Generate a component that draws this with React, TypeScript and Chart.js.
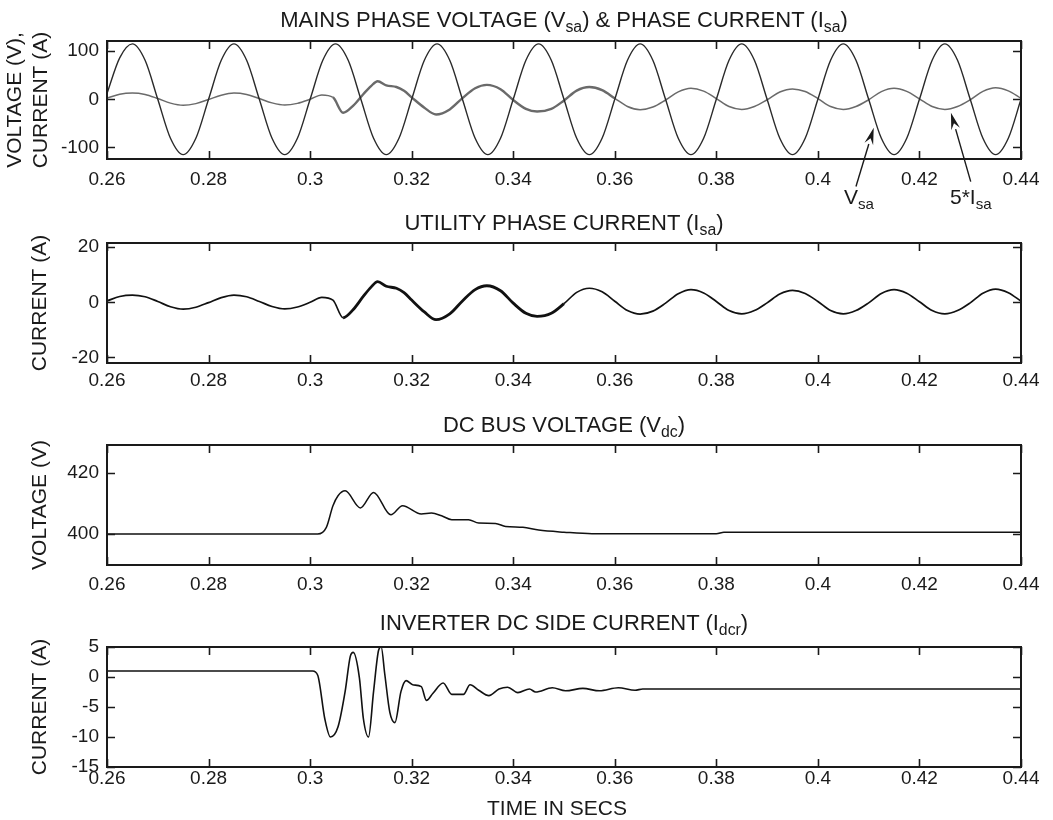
import React, { useEffect, useRef } from "react";
import { Chart, registerables } from "chart.js";

Chart.register(...registerables);

// ---------------- data ----------------
const X_TICKS = [0.26, 0.28, 0.3, 0.32, 0.34, 0.36, 0.38, 0.4, 0.42, 0.44];

const Y_TICKS_1 = [-100, 0, 100];
const Y_TICKS_2 = [-20, 0, 20];
const Y_TICKS_3 = [400, 420];
const Y_TICKS_4 = [-15, -10, -5, 0, 5];

// mains phase voltage Vsa (V)
const VSA_T = [
  0.26, 0.2625, 0.265, 0.2675, 0.27, 0.2725, 0.275, 0.2775,
  0.28, 0.2825, 0.285, 0.2875, 0.29, 0.2925, 0.295, 0.2975,
  0.3, 0.3025, 0.305, 0.3075, 0.31, 0.3125, 0.315, 0.3175,
  0.32, 0.3225, 0.325, 0.3275, 0.33, 0.3325, 0.335, 0.3375,
  0.34, 0.3425, 0.345, 0.3475, 0.35, 0.3525, 0.355, 0.3575,
  0.36, 0.3625, 0.365, 0.3675, 0.37, 0.3725, 0.375, 0.3775,
  0.38, 0.3825, 0.385, 0.3875, 0.39, 0.3925, 0.395, 0.3975,
  0.4, 0.4025, 0.405, 0.4075, 0.41, 0.4125, 0.415, 0.4175,
  0.42, 0.4225, 0.425, 0.4275, 0.43, 0.4325, 0.435, 0.4375,
  0.44,
];
const VSA_V = [
  12, 86, 115, 81, 0, -81, -115, -81,
  0, 81, 115, 81, 0, -81, -115, -81,
  0, 81, 115, 81, 0, -81, -115, -81,
  0, 81, 115, 81, 0, -81, -115, -81,
  0, 81, 115, 81, 0, -81, -115, -81,
  0, 81, 115, 81, 0, -81, -115, -81,
  0, 81, 115, 81, 0, -81, -115, -81,
  0, 81, 115, 81, 0, -81, -115, -81,
  0, 81, 115, 81, 0, -81, -115, -81,
  0,
];

// utility phase current Isa (A)
const ISA_T = [
  0.26, 0.2625, 0.265, 0.2675, 0.27, 0.2725, 0.275, 0.2775,
  0.28, 0.2825, 0.285, 0.2875, 0.29, 0.2925, 0.295, 0.2975, 0.3,
  0.3023, 0.3045, 0.3065, 0.3085, 0.3105, 0.312, 0.3133, 0.315, 0.317, 0.3185, 0.32,
  0.3225, 0.3248, 0.3275, 0.33, 0.3325, 0.3348, 0.3375, 0.34,
  0.3425, 0.3447, 0.3475, 0.35, 0.3525, 0.355, 0.3575, 0.36,
  0.3625, 0.365, 0.3675, 0.37, 0.3725, 0.375, 0.3775, 0.38,
  0.3825, 0.385, 0.3875, 0.39, 0.3925, 0.395, 0.3975, 0.4,
  0.4025, 0.405, 0.4075, 0.41, 0.4125, 0.415, 0.4175, 0.42,
  0.4225, 0.425, 0.4275, 0.43, 0.4325, 0.435, 0.4375, 0.44,
];
const ISA_V = [
  0.5, 2.1, 2.6, 2.0, 0.3, -1.6, -2.5, -1.8,
  -0.1, 1.7, 2.6, 2.0, 0.3, -1.5, -2.4, -1.7, 0.0,
  1.8, 0.8, -5.6, -2.6, 2.2, 5.5, 7.5, 5.8, 5.1, 3.5, 0.8,
  -3.5, -6.3, -4.2, 0.5, 4.6, 6.0, 4.2, -0.3,
  -4.0, -5.1, -4.0, -0.5, 3.6, 5.1, 3.8, 0.4,
  -3.0, -4.3, -3.2, -0.3, 3.1, 4.6, 3.4, 0.3,
  -3.0, -4.2, -3.0, -0.2, 3.0, 4.3, 3.2, 0.3,
  -3.0, -4.2, -3.0, -0.2, 3.2, 4.6, 3.3, 0.2,
  -3.0, -4.2, -3.0, -0.2, 3.3, 4.8, 3.5, 0.4,
];
const ISA_SCALE = 5; // plotted as 5*Isa in the top panel

// DC bus voltage Vdc (V)
const VDC_T = [
  0.26, 0.3015, 0.3032, 0.3045, 0.3055, 0.3069, 0.3099, 0.3125, 0.3159, 0.3182,
  0.3219, 0.3239, 0.3259, 0.3279, 0.3312, 0.3332, 0.3365, 0.3385, 0.3419, 0.345,
  0.35, 0.3555, 0.38, 0.3815, 0.44,
];
const VDC_V = [
  400, 400, 402.2, 409.3, 412.6, 414.2, 408.6, 413.7, 406.3, 409.3,
  406.6, 406.9, 406.0, 404.7, 404.7, 403.6, 403.5, 402.5, 402.2, 401.3,
  400.6, 400.1, 400.1, 400.6, 400.6,
];

// inverter DC side current Idcr (A)
const IDC_T = [
  0.26, 0.3005, 0.3015, 0.3029, 0.304, 0.3055, 0.3069, 0.3079, 0.3085, 0.3097,
  0.3105, 0.3115, 0.3125, 0.3135, 0.314, 0.3147, 0.3157, 0.3167, 0.3179, 0.3189,
  0.3202, 0.3219, 0.3229, 0.3242, 0.3262, 0.3279, 0.3302, 0.3315, 0.3332, 0.3352,
  0.3372, 0.3389, 0.3409, 0.3432, 0.3444, 0.3477, 0.3503, 0.3537, 0.357, 0.3607,
  0.364, 0.3655, 0.44,
];
const IDC_V = [
  1.0, 1.0, 0.3, -7.0, -10.0, -8.3, -2.4, 3.4, 4.1, -0.1,
  -7.0, -10.0, -2.4, 4.5, 5.0, 0.5, -5.9, -7.6, -2.4, -0.6,
  -1.3, -1.6, -3.9, -2.7, -1.0, -2.9, -2.9, -1.3, -2.2, -3.1,
  -2.0, -1.7, -2.6, -2.0, -2.5, -1.8, -2.3, -1.9, -2.3, -1.8,
  -2.2, -2.0, -2.0,
];

// annotation arrows (data coordinates of top panel): tail -> tip
const ARROWS = [
  { from: [0.4075, -181], to: [0.411, -59] },
  { from: [0.4301, -171], to: [0.4262, -28] },
];

// ---------------- helpers ----------------
const FONT = '"Liberation Sans", Arial, Helvetica, sans-serif';
const INK = "#1a1a1a";

const pts = (t: number[], v: number[]) => t.map((x, i) => ({ x, y: v[i] }));

const framePlugin = {
  id: "frame",
  afterDraw(chart: any) {
    const { ctx, chartArea } = chart;
    const { left, right, top, bottom } = chartArea;
    const x = chart.scales.x;
    const y = chart.scales.y;
    const L = 8;
    ctx.save();
    ctx.strokeStyle = INK;
    ctx.lineWidth = 1.6;
    ctx.beginPath();
    x.ticks.forEach((t: any) => {
      const px = Math.round(x.getPixelForValue(t.value)) + 0.5;
      ctx.moveTo(px, bottom);
      ctx.lineTo(px, bottom - L);
      ctx.moveTo(px, top);
      ctx.lineTo(px, top + L);
    });
    y.ticks.forEach((t: any) => {
      const py = Math.round(y.getPixelForValue(t.value)) + 0.5;
      ctx.moveTo(left, py);
      ctx.lineTo(left + L, py);
      ctx.moveTo(right, py);
      ctx.lineTo(right - L, py);
    });
    ctx.stroke();
    ctx.lineWidth = 2;
    ctx.strokeRect(left, top, right - left, bottom - top);
    ctx.restore();
  },
};

const arrowPlugin = {
  id: "arrows",
  afterDraw(chart: any, _args: any, opts: any) {
    const items = (opts && opts.items) || [];
    if (!items.length) return;
    const { ctx } = chart;
    const x = chart.scales.x;
    const y = chart.scales.y;
    ctx.save();
    ctx.strokeStyle = INK;
    ctx.fillStyle = INK;
    ctx.lineWidth = 1.4;
    items.forEach((a: any) => {
      const x0 = x.getPixelForValue(a.from[0]);
      const y0 = y.getPixelForValue(a.from[1]);
      const x1 = x.getPixelForValue(a.to[0]);
      const y1 = y.getPixelForValue(a.to[1]);
      const ang = Math.atan2(y1 - y0, x1 - x0);
      const len = 17;
      const hw = 4.5;
      const bx = x1 - len * Math.cos(ang);
      const by = y1 - len * Math.sin(ang);
      ctx.beginPath();
      ctx.moveTo(x0, y0);
      ctx.lineTo(bx, by);
      ctx.stroke();
      ctx.beginPath();
      ctx.moveTo(x1, y1);
      ctx.lineTo(bx + hw * Math.sin(ang), by - hw * Math.cos(ang));
      ctx.lineTo(x1 - (len - 6) * Math.cos(ang), y1 - (len - 6) * Math.sin(ang));
      ctx.lineTo(bx - hw * Math.sin(ang), by + hw * Math.cos(ang));
      ctx.closePath();
      ctx.fill();
    });
    ctx.restore();
  },
};

type PanelProps = {
  top: number;
  height: number;
  padTop: number;
  axisHeight: number;
  tickPad: number;
  yMin: number;
  yMax: number;
  yTicks: number[];
  yTitle: string | string[];
  yTitlePad: number;
  datasets: any[];
  arrows?: any[];
};

function Panel(p: PanelProps) {
  const ref = useRef<HTMLCanvasElement | null>(null);
  useEffect(() => {
    if (!ref.current) return;
    const chart = new Chart(ref.current, {
      type: "line",
      data: { datasets: p.datasets },
      plugins: [framePlugin, arrowPlugin],
      options: {
        animation: false,
        responsive: false,
        devicePixelRatio: 1,
        parsing: false as any,
        normalized: true,
        layout: { padding: { top: p.padTop, right: 32, left: 0, bottom: 0 } },
        elements: { point: { radius: 0 }, line: { cubicInterpolationMode: "monotone" } },
        plugins: {
          legend: { display: false },
          tooltip: { enabled: false },
          title: { display: false },
          arrows: { items: p.arrows || [] },
        } as any,
        scales: {
          x: {
            type: "linear",
            min: X_TICKS[0],
            max: X_TICKS[X_TICKS.length - 1],
            grid: { display: false, drawTicks: false },
            border: { display: false },
            afterBuildTicks: (s: any) => {
              s.ticks = X_TICKS.map((v) => ({ value: v }));
            },
            afterFit: (s: any) => {
              s.height = p.axisHeight;
            },
            ticks: {
              autoSkip: false,
              maxRotation: 0,
              padding: p.tickPad,
              color: INK,
              font: { family: FONT, size: 19 },
              callback: (v: any) => String(Number(Number(v).toFixed(2))),
            },
          },
          y: {
            type: "linear",
            min: p.yMin,
            max: p.yMax,
            grid: { display: false, drawTicks: false },
            border: { display: false },
            afterBuildTicks: (s: any) => {
              s.ticks = p.yTicks.map((v) => ({ value: v }));
            },
            afterFit: (s: any) => {
              s.width = 107;
            },
            ticks: {
              autoSkip: false,
              padding: 8,
              color: INK,
              font: { family: FONT, size: 19 },
              callback: (v: any) => String(v),
            },
            title: {
              display: true,
              text: p.yTitle as any,
              color: INK,
              padding: { top: p.yTitlePad, bottom: 0 },
              font: { family: FONT, size: 21, lineHeight: 1.2 },
            },
          },
        },
      },
    });
    return () => chart.destroy();
  }, []);
  return (
    <canvas
      ref={ref}
      width={1053}
      height={p.height}
      style={{ position: "absolute", left: 0, top: p.top, width: 1053, height: p.height }}
    />
  );
}

const sub: React.CSSProperties = { fontSize: "0.72em", verticalAlign: "-0.3em", lineHeight: 0 };

function Title({ top, children }: { top: number; children: React.ReactNode }) {
  return (
    <div
      style={{
        position: "absolute",
        left: 107,
        width: 914,
        top,
        textAlign: "center",
        fontSize: 22,
        lineHeight: "20px",
        whiteSpace: "nowrap",
      }}
    >
      {children}
    </div>
  );
}

export default function App() {
  const widen = (from: number, to: number, wide: number, thin: number) => (ctx: any) =>
    ctx.p0.parsed.x >= from && ctx.p1.parsed.x <= to ? wide : thin;

  const p1 = [
    {
      label: "Vsa",
      data: pts(VSA_T, VSA_V),
      borderColor: "#2a2a2a",
      borderWidth: 1.4,
    },
    {
      label: "5*Isa",
      data: pts(ISA_T, ISA_V.map((v) => v * ISA_SCALE)),
      borderColor: "#6a6a6a",
      borderWidth: 1.4,
      segment: { borderWidth: widen(0.304, 0.36, 2.4, 1.5) },
    },
  ];
  const p2 = [
    {
      label: "Isa",
      data: pts(ISA_T, ISA_V),
      borderColor: "#111111",
      borderWidth: 1.6,
      segment: { borderWidth: widen(0.305, 0.35, 2.8, 1.7) },
    },
  ];
  const p3 = [
    { label: "Vdc", data: pts(VDC_T, VDC_V), borderColor: "#111111", borderWidth: 1.5 },
  ];
  const p4 = [
    { label: "Idcr", data: pts(IDC_T, IDC_V), borderColor: "#111111", borderWidth: 1.6 },
  ];

  return (
    <div
      style={{
        position: "absolute",
        left: 0,
        top: 0,
        width: 1053,
        height: 820,
        background: "#ffffff",
        fontFamily: FONT,
        color: INK,
        overflow: "hidden",
      }}
    >
      <Panel top={0} height={200} padTop={41} axisHeight={41} tickPad={9}
        yMin={-124} yMax={121} yTicks={Y_TICKS_1}
        yTitle={["VOLTAGE (V),", "CURRENT (A)"]} yTitlePad={3}
        datasets={p1} arrows={ARROWS} />
      <Panel top={200} height={200} padTop={43} axisHeight={37} tickPad={6}
        yMin={-22} yMax={21.5} yTicks={Y_TICKS_2}
        yTitle="CURRENT (A)" yTitlePad={28} datasets={p2} />
      <Panel top={400} height={195} padTop={45} axisHeight={30} tickPad={8}
        yMin={389.8} yMax={429.3} yTicks={Y_TICKS_3}
        yTitle="VOLTAGE (V)" yTitlePad={28} datasets={p3} />
      <Panel top={595} height={225} padTop={52} axisHeight={53} tickPad={0}
        yMin={-15} yMax={5} yTicks={Y_TICKS_4}
        yTitle="CURRENT (A)" yTitlePad={28} datasets={p4} />

      <Title top={10}>
        MAINS PHASE VOLTAGE (V<span style={sub}>sa</span>) &amp; PHASE CURRENT (I<span style={sub}>sa</span>)
      </Title>
      <Title top={213}>
        UTILITY PHASE CURRENT (I<span style={sub}>sa</span>)
      </Title>
      <Title top={415}>
        DC BUS VOLTAGE (V<span style={sub}>dc</span>)
      </Title>
      <Title top={613}>
        INVERTER DC SIDE CURRENT (I<span style={sub}>dcr</span>)
      </Title>

      <div style={{ position: "absolute", left: 844, top: 187, fontSize: 21, lineHeight: "20px" }}>
        V<span style={sub}>sa</span>
      </div>
      <div style={{ position: "absolute", left: 950, top: 187, fontSize: 21, lineHeight: "20px" }}>
        5*I<span style={sub}>sa</span>
      </div>

      <div
        style={{
          position: "absolute",
          left: 107,
          width: 900,
          top: 798,
          textAlign: "center",
          fontSize: 21,
          lineHeight: "20px",
        }}
      >
        TIME IN SECS
      </div>
    </div>
  );
}
